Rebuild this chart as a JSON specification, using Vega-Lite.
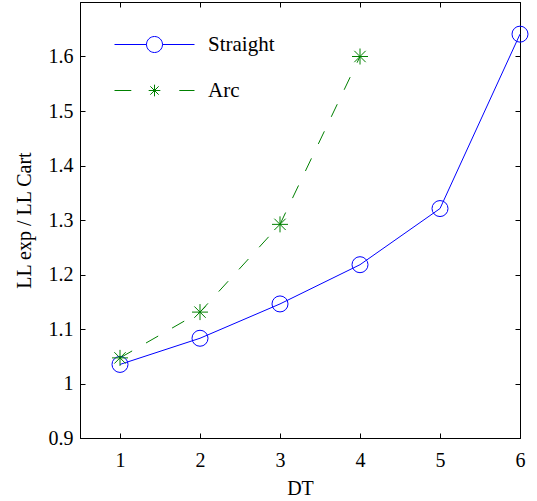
{
  "$schema": "https://vega.github.io/schema/vega-lite/v6.json",
  "width": 440,
  "height": 436,
  "autosize": {"type": "none"},
  "padding": {"left": 80, "top": 2, "right": 17, "bottom": 63},
  "background": "white",
  "config": {
    "font": "Times New Roman, Liberation Serif, serif",
    "view": {"stroke": "black", "strokeWidth": 1},
    "legend": {"labelFont": "Times New Roman, Liberation Serif, serif", "labelFontSize": 21, "labelColor": "black"},
    "axis": {
      "grid": false,
      "domainColor": "black",
      "domainWidth": 1,
      "tickColor": "black",
      "tickWidth": 1,
      "tickSize": -5,
      "labelFlush": false,
      "labelFont": "Times New Roman, Liberation Serif, serif",
      "labelFontSize": 20,
      "labelColor": "black",
      "titleFont": "Times New Roman, Liberation Serif, serif",
      "titleFontSize": 20,
      "titleFontWeight": "normal",
      "titleColor": "black"
    }
  },
  "data": {
    "values": [
      {"series": "Straight", "DT": 1, "ratio": 1.035},
      {"series": "Straight", "DT": 2, "ratio": 1.083},
      {"series": "Straight", "DT": 3, "ratio": 1.146},
      {"series": "Straight", "DT": 4, "ratio": 1.218},
      {"series": "Straight", "DT": 5, "ratio": 1.321},
      {"series": "Straight", "DT": 6, "ratio": 1.641},
      {"series": "Arc", "DT": 1, "ratio": 1.047},
      {"series": "Arc", "DT": 2, "ratio": 1.131},
      {"series": "Arc", "DT": 3, "ratio": 1.292},
      {"series": "Arc", "DT": 4, "ratio": 1.6}
    ]
  },
  "resolve": {"axis": {"x": "independent", "y": "independent"}},
  "layer": [
    {
      "transform": [{"filter": "datum.series === 'Straight'"}],
      "mark": {"type": "line", "color": "#0000ff", "strokeWidth": 1},
      "encoding": {
        "x": {"field": "DT", "type": "quantitative", "scale": {"domain": [0.5, 6], "nice": false, "zero": false},
          "axis": {"title": "DT", "values": [1, 2, 3, 4, 5, 6], "labelPadding": 17, "titlePadding": 8, "labelFlush": false}},
        "y": {"field": "ratio", "type": "quantitative", "scale": {"domain": [0.9, 1.7], "nice": false, "zero": false},
          "axis": {"title": "LL exp / LL Cart", "values": [0.9, 1.0, 1.1, 1.2, 1.3, 1.4, 1.5, 1.6], "format": "~g", "labelPadding": 12, "titlePadding": 14, "labelFlush": false}}
      }
    },
    {
      "transform": [{"filter": "datum.series === 'Arc'"}],
      "mark": {"type": "line", "color": "#008000", "strokeWidth": 1, "strokeDash": [14, 16]},
      "encoding": {
        "x": {"field": "DT", "type": "quantitative", "axis": null},
        "y": {"field": "ratio", "type": "quantitative", "axis": null}
      }
    },
    {
      "transform": [{"filter": "datum.series === 'Straight'"}],
      "mark": {"type": "point", "shape": "circle", "size": 256, "filled": false, "stroke": "#0000ff", "strokeWidth": 1, "opacity": 1},
      "encoding": {
        "x": {"field": "DT", "type": "quantitative", "axis": null},
        "y": {"field": "ratio", "type": "quantitative", "axis": null}
      }
    },
    {
      "transform": [{"filter": "datum.series === 'Arc'"}],
      "mark": {"type": "point", "shape": "M0,-1L0,1M-1,0L1,0M-0.71,-0.71L0.71,0.71M-0.71,0.71L0.71,-0.71", "size": 256, "filled": false, "stroke": "#008000", "strokeWidth": 1, "opacity": 1},
      "encoding": {
        "x": {"field": "DT", "type": "quantitative", "axis": null},
        "y": {"field": "ratio", "type": "quantitative", "axis": null}
      }
    },
    {
      "mark": {"type": "point", "filled": false, "opacity": 0, "size": 256},
      "encoding": {
        "x": {"field": "DT", "type": "quantitative",
          "axis": {"orient": "top", "values": [1, 2, 3, 4, 5, 6], "labels": false, "title": null}},
        "y": {"field": "ratio", "type": "quantitative",
          "axis": {"orient": "right", "values": [0.9, 1.0, 1.1, 1.2, 1.3, 1.4, 1.5, 1.6], "labels": false, "title": null}},
        "color": {"field": "series", "type": "nominal",
          "scale": {"domain": ["Straight", "Arc"], "range": ["#0000ff", "#008000"]},
          "legend": {"title": null, "orient": "none", "legendX": 64, "legendY": 32,
            "symbolSize": 256, "symbolStrokeWidth": 1, "symbolOpacity": 1,
            "labelFontSize": 21, "labelColor": "black",
            "labelOffset": 43, "rowPadding": 24, "padding": 0,
            "encode": {"symbols": {"update": {"opacity": {"value": 1}}}}}},
        "shape": {"field": "series", "type": "nominal",
          "scale": {"domain": ["Straight", "Arc"], "range": [
            "M-5,0L-1,0M1,0L5,0M-1,0A1,1,0,1,0,1,0A1,1,0,1,0,-1,0",
            "M-5,0L-2.9,0M3.1,0L5,0M0,-0.73L0,0.73M-0.73,0L0.73,0M-0.52,-0.52L0.52,0.52M-0.52,0.52L0.52,-0.52"
          ]},
          "legend": {"title": null, "orient": "none", "legendX": 64, "legendY": 32,
            "symbolSize": 256, "symbolStrokeWidth": 1, "symbolOpacity": 1,
            "labelFontSize": 21, "labelColor": "black",
            "labelOffset": 43, "rowPadding": 24, "padding": 0,
            "encode": {"symbols": {"update": {"opacity": {"value": 1}}}}}}
      }
    }
  ]
}
